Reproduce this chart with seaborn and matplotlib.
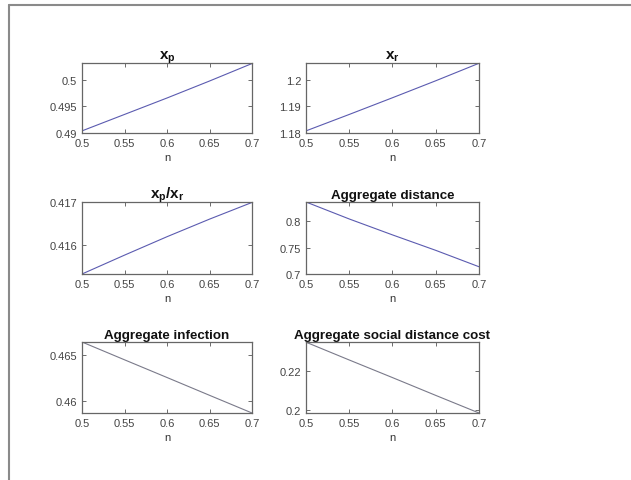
import matplotlib
matplotlib.use("Agg")
import matplotlib.pyplot as plt
from matplotlib.lines import Line2D
from matplotlib.ticker import FuncFormatter
import seaborn as sns
import pandas as pd

# ---- data ----
n_values = [0.5, 0.55, 0.6, 0.65, 0.7]
x_p = [0.4904, 0.4935, 0.4966, 0.4998, 0.5031]
x_r = [1.1808, 1.1870, 1.1933, 1.1997, 1.2063]
ratio = [0.41533, 0.41577, 0.41620, 0.41661, 0.41700]
agg_distance = [0.837, 0.8047, 0.7744, 0.7450, 0.7138]
agg_infection = [0.4664, 0.46447, 0.46255, 0.46062, 0.4587]
agg_cost = [0.2345, 0.2254, 0.2164, 0.2073, 0.1983]

titles = [r"$\mathbf{x_p}$", r"$\mathbf{x_r}$", r"$\mathbf{x_p/x_r}$",
          "Aggregate distance", "Aggregate infection", "Aggregate social distance cost"]
series = [x_p, x_r, ratio, agg_distance, agg_infection, agg_cost]
ylims = [(0.49, 0.5032), (1.18, 1.2064), (0.41533, 0.41701),
         (0.70, 0.837), (0.4587, 0.46640), (0.1983, 0.2346)]
yticks = [[0.49, 0.495, 0.5], [1.18, 1.19, 1.2], [0.416, 0.417],
          [0.7, 0.75, 0.8], [0.46, 0.465], [0.2, 0.22]]
xticks = [0.5, 0.55, 0.6, 0.65, 0.7]

sns.set_style("white")
plt.rcParams["font.family"] = ["Liberation Sans", "DejaVu Sans"]
plt.rcParams["mathtext.fontset"] = "custom"
plt.rcParams["mathtext.bf"] = "Liberation Sans:bold"
plt.rcParams["mathtext.rm"] = "Liberation Sans"
plt.rcParams["mathtext.it"] = "Liberation Sans:italic"

W, H = 631, 481
fig = plt.figure(figsize=(W / 100, H / 100), dpi=100)
fig.patch.set_facecolor("white")

# axes boxes in pixel coords (left, top, right, bottom)
boxes = [(82, 64, 252, 134), (306, 64, 479, 134),
         (82, 203, 252, 275), (306, 203, 479, 275),
         (82, 343, 252, 414), (306, 343, 479, 414)]
line_colors = ["#5b5bb0", "#5b5bb0", "#5b5bb0", "#5b5bb0", "#7a7a8a", "#7a7a8a"]
title_sizes = [11, 11, 11, 9.6, 9.6, 9.6]

fmt = FuncFormatter(lambda v, p: ("%g" % round(v, 6)))

for i, (l, t, r, b) in enumerate(boxes):
    ax = fig.add_axes([l / W, 1 - b / H, (r - l) / W, (b - t) / H])
    df = pd.DataFrame({"n": n_values, "v": series[i]})
    sns.lineplot(data=df, x="n", y="v", ax=ax, color=line_colors[i], linewidth=0.8)
    ax.set_xlim(0.5, 0.7)
    ax.set_ylim(*ylims[i])
    ax.set_xticks(xticks)
    ax.set_yticks(yticks[i])
    ax.xaxis.set_major_formatter(fmt)
    ax.yaxis.set_major_formatter(fmt)
    ax.tick_params(direction="in", length=3, width=0.6, colors="#555555",
                   labelsize=8, top=True, right=True, bottom=True, left=True,
                   labelcolor="#444444")
    ax.tick_params(axis="x", pad=3.5)
    ax.tick_params(axis="y", pad=3.5)
    for s in ax.spines.values():
        s.set_visible(True)
        s.set_color("#666666")
        s.set_linewidth(0.9)
    ax.set_xlabel("n", fontsize=8, color="#333333", labelpad=3)
    ax.set_ylabel("")
    ax.set_title(titles[i], fontsize=title_sizes[i], fontweight="bold", color="#111111", pad=3)

# window frame lines
fig.add_artist(Line2D([9 / W, 1.0], [1 - 6 / H, 1 - 6 / H], transform=fig.transFigure,
                      color="#8a8a8a", linewidth=1.5))
fig.add_artist(Line2D([9 / W, 9 / W], [1 - 6 / H, 0.0], transform=fig.transFigure,
                      color="#8a8a8a", linewidth=1.5))

fig.savefig("out.png", dpi=100, facecolor="white")
